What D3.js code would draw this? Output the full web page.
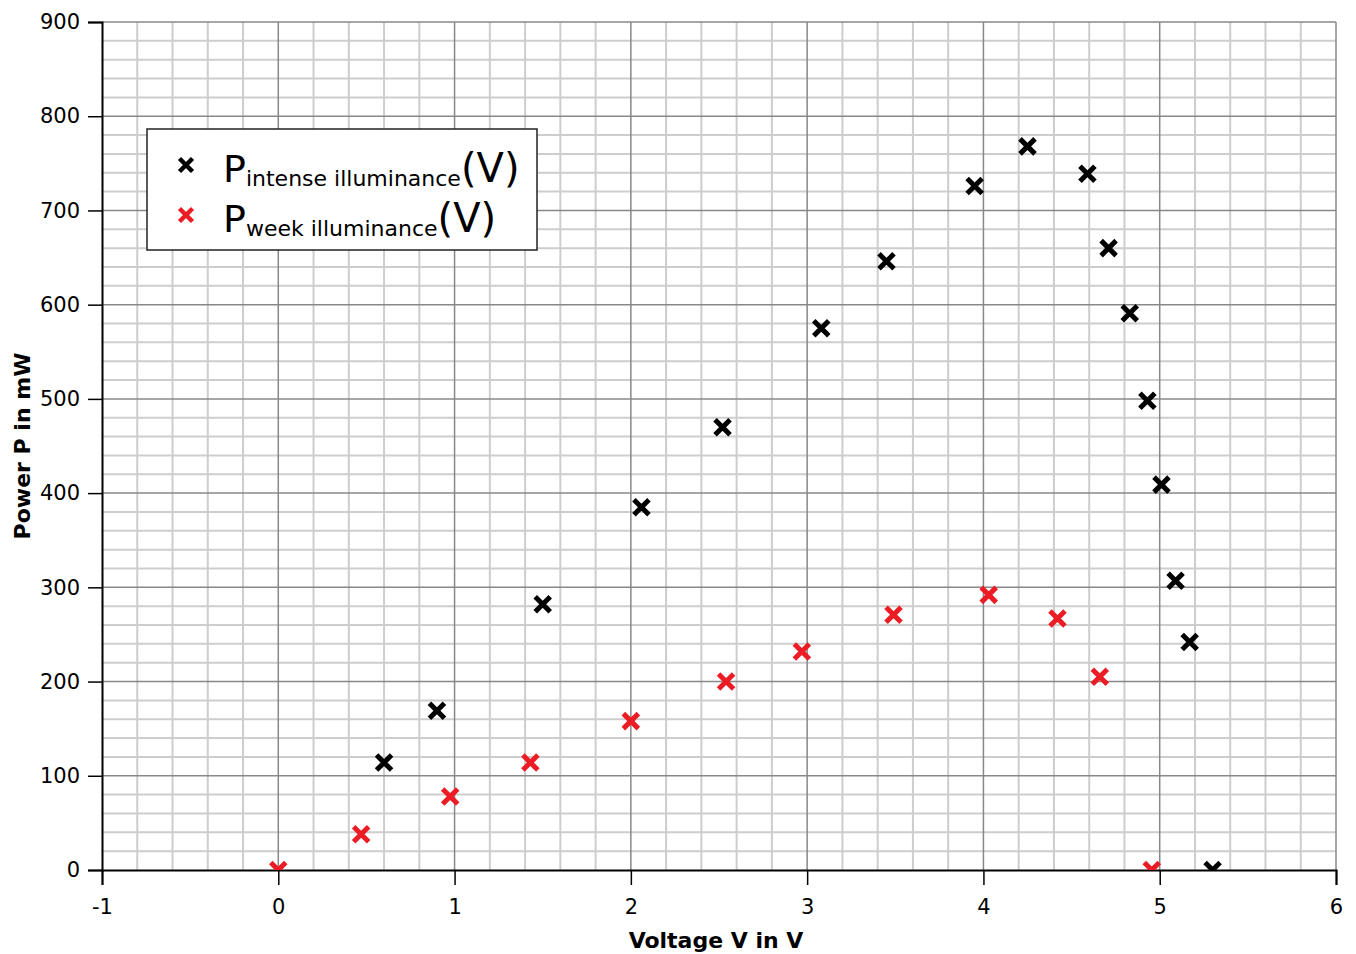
<!DOCTYPE html>
<meta charset='utf-8'>
<style>
  body { margin:0; background:#fff; }
  text { font-family:'DejaVu Sans', Verdana, sans-serif; }
  .tick-label { font-size:21px; fill:#000; }
  .axis-title { font-size:22px; font-weight:bold; fill:#000; }
  .grid-minor { stroke:#cdcdcd; stroke-width:2px; }
  .grid-major { stroke:#888; stroke-width:1.5px; }
</style>
<body>
<script src='https://d3js.org/d3.v7.min.js'></script>
<script>
  var width = 1356;
  var height = 954;

  // data ------------------------------------------------------------------
  var intenseV = [0.60, 0.90, 1.50, 2.06, 2.52, 3.08, 3.45, 3.95, 4.25, 4.59, 4.71, 4.83, 4.93, 5.01, 5.09, 5.17, 5.30];
  var intenseP = [114, 169, 282, 385, 470, 575, 646, 726, 768, 739, 660, 591, 498, 409, 307, 242, 0];
  var weekV = [0, 0.47, 0.975, 1.43, 2.0, 2.54, 2.97, 3.49, 4.03, 4.42, 4.66, 4.955];
  var weekP = [0, 38, 78, 114, 158, 200, 232, 271, 292, 267, 205, 0];
  var xTicks = [-1, 0, 1, 2, 3, 4, 5, 6];
  var yTicks = [0, 100, 200, 300, 400, 500, 600, 700, 800, 900];

  var plotLeft = 102, plotRight = 1336, plotTop = 22, plotBottom = 870;

  var x = d3.scaleLinear().domain([-1, 6]).range([plotLeft, plotRight]);
  var y = d3.scaleLinear().domain([0, 900]).range([plotBottom, plotTop]);

  var svg = d3.select('body').append('svg')
    .attr('width', width)
    .attr('height', height);

  // grid ------------------------------------------------------------------
  var xMinor = d3.range(-1, 6.001, 0.2).filter(function(d) { return Math.abs(d - Math.round(d)) > 1e-6; });
  var yMinor = d3.range(0, 901, 20).filter(function(d) { return d % 100 !== 0; });

  svg.append('g').selectAll('line').data(xMinor).enter().append('line')
    .attr('class', 'grid-minor')
    .attr('x1', function(d) { return x(d); }).attr('x2', function(d) { return x(d); })
    .attr('y1', plotTop).attr('y2', plotBottom);
  svg.append('g').selectAll('line').data(yMinor).enter().append('line')
    .attr('class', 'grid-minor')
    .attr('x1', plotLeft).attr('x2', plotRight)
    .attr('y1', function(d) { return y(d); }).attr('y2', function(d) { return y(d); });
  svg.append('g').selectAll('line').data(xTicks.slice(1)).enter().append('line')
    .attr('class', 'grid-major')
    .attr('x1', function(d) { return x(d); }).attr('x2', function(d) { return x(d); })
    .attr('y1', plotTop).attr('y2', plotBottom);
  svg.append('g').selectAll('line').data(yTicks.slice(1)).enter().append('line')
    .attr('class', 'grid-major')
    .attr('x1', plotLeft).attr('x2', plotRight)
    .attr('y1', function(d) { return y(d); }).attr('y2', function(d) { return y(d); });

  // axes ------------------------------------------------------------------
  var fmt = function(d) { return String(d); };
  var xAxis = svg.append('g').attr('transform', 'translate(0,' + plotBottom + ')');
  xAxis.call(d3.axisBottom(x).tickValues(xMinor).tickSize(9).tickFormat(''));
  xAxis.call(d3.axisBottom(x).tickValues(xTicks).tickSize(15).tickFormat(fmt).tickPadding(14));
  var yAxis = svg.append('g').attr('transform', 'translate(' + plotLeft + ',0)');
  yAxis.call(d3.axisLeft(y).tickValues(yMinor).tickSize(8).tickFormat(''));
  yAxis.call(d3.axisLeft(y).tickValues(yTicks).tickSize(14).tickFormat(fmt).tickPadding(8));
  svg.selectAll('.domain').attr('stroke', '#000').attr('stroke-width', 2);
  svg.selectAll('.tick line').attr('stroke', '#000').attr('stroke-width', 1.5);
  svg.selectAll('.tick text').attr('class', 'tick-label').attr('font-size', null).attr('font-family', null);

  svg.append('text').attr('class', 'axis-title')
    .attr('x', 716).attr('y', 948)
    .attr('text-anchor', 'middle')
    .text('Voltage V in V');
  svg.append('text').attr('class', 'axis-title')
    .attr('transform', 'translate(30,446) rotate(-90)')
    .attr('text-anchor', 'middle')
    .text('Power P in mW');

  // points ----------------------------------------------------------------
  svg.append('clipPath').attr('id', 'plot')
    .append('rect').attr('x', plotLeft).attr('y', plotTop)
    .attr('width', plotRight - plotLeft).attr('height', plotBottom - plotTop);

  var cross = 'M-7.5,-7.5L7.5,7.5M-7.5,7.5L7.5,-7.5';
  function drawSeries(vs, ps, color) {
    svg.append('g').attr('clip-path', 'url(#plot)')
      .selectAll('path').data(vs).enter().append('path')
      .attr('d', cross)
      .attr('transform', function(d, i) { return 'translate(' + x(d) + ',' + y(ps[i]) + ')'; })
      .attr('stroke', color)
      .attr('stroke-width', 5)
      .attr('fill', 'none');
  }
  drawSeries(intenseV, intenseP, '#000');
  drawSeries(weekV, weekP, '#ec1c24');

  // legend ----------------------------------------------------------------
  var legendItems = [
    { sub: 'intense illuminance', color: '#000' },
    { sub: 'week illuminance', color: '#ec1c24' }
  ];
  var legend = svg.append('g');
  legend.append('rect')
    .attr('x', 147).attr('y', 129).attr('width', 390).attr('height', 121)
    .attr('fill', '#fff').attr('stroke', '#222').attr('stroke-width', 1.5);
  legendItems.forEach(function(item, i) {
    var cy = 165 + i * 50;
    legend.append('path')
      .attr('d', 'M-6.5,-6.5L6.5,6.5M-6.5,6.5L6.5,-6.5')
      .attr('transform', 'translate(186,' + cy + ')')
      .attr('stroke', item.color).attr('stroke-width', 4.5).attr('fill', 'none');
    var t = legend.append('text').attr('x', 223).attr('y', cy + 17).attr('fill', '#000');
    t.append('tspan').attr('font-size', 38).text('P');
    t.append('tspan').attr('font-size', 22).attr('dy', 4).text(item.sub);
    t.append('tspan').attr('font-size', 40).attr('dy', -4).text('(V)');
  });
</script>
</body>
